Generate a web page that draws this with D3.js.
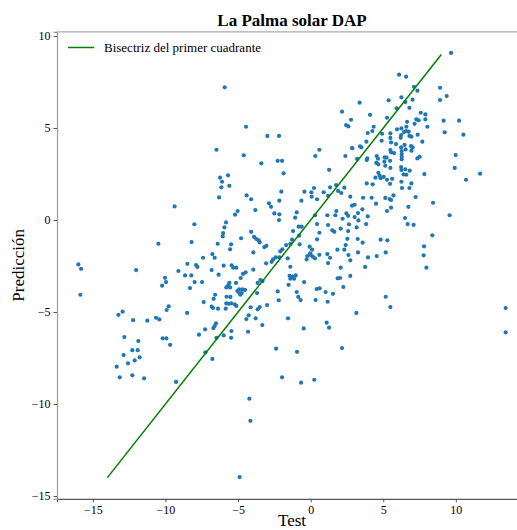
<!DOCTYPE html>
<html>
<head>
<meta charset="utf-8">
<script src="https://cdn.jsdelivr.net/npm/d3@7"></script>
<style>
    body { margin: 0; background: #fff; }
    svg { display: block; font-family: "Liberation Serif", "DejaVu Serif", serif; }
</style>
</head>
<body>
<svg></svg>
<script>
const title = "La Palma solar DAP";
const xLabel = "Test";
const yLabel = "Predicción";
const legendLabel = "Bisectriz del primer cuadrante";

const xTicks = [-15, -10, -5, 0, 5, 10];
const yTicks = [-15, -10, -5, 0, 5, 10];
const bisector = [-14, 9];

// test value, predicted value (same order)
const testVals = [
    -5.92, 3.37, 2.16, 2.78, 2.44, 2.60, -4.45, -2.98, -2.18, -6.49, 0.60, 2.85, -4.61, 0.32, 2.39, 3.20, -2.27, -1.97, -3.40, -1.86,
    1.27, -6.24, -6.10, -6.15, -5.69, -5.60, -6.31, -2.02, -4.41, -4.10, -0.43, 0.05, 0.23, 0.90, 1.34, 1.75, 1.89, 2.11, 2.32, 0.07,
    0.44, 1.20, -0.64, -2.87, -2.73, 2.73, 2.85, 3.03, -3.81,
    9.67, 6.09, 6.57, 8.91, 7.12, 7.35, 9.37, 8.91, 5.37, 6.25, 6.52, 7.02, 5.92, 6.80, 7.58, 7.90, 4.09, 5.26, 7.28, 7.44,
    7.90, 9.16, 10.22, 6.64, 7.16, 8.04, 4.34, 4.25, 3.93, 5.95, 6.25, 6.59, 6.57, 6.43, 6.75, 9.23, 10.52, 4.92, 5.49, 6.23,
    6.20, 6.80, 6.94, 7.37, 5.49, 5.54, 3.84, 4.89, 7.69, 5.88, 6.47, 6.23, 6.91, 7.02, 6.94, 6.54, 3.40, 3.49, 2.87, 5.49,
    5.54, 5.74, 6.27, 6.27, 6.27, 6.27, 3.90, 3.86, 4.55, 4.64, 5.10, 5.23, 7.51, 7.35, 4.52, 4.66, 5.08, 5.14, 5.47, 9.99,
    9.92, 5.49, 6.23, 6.25, 6.52, 6.40, 6.59, 6.82, 4.66, 4.75, 4.82, 4.46, 5.03, 7.83, 10.70, 11.67, 5.26, 5.61, 3.86, 4.27,
    6.25, 6.94, 5.47, 6.29, 6.80, 3.61, 4.20, 5.14, 5.44, 5.70, 5.54, 7.23, 6.73, 8.43, 4.50, 3.56,
    3.26, 3.03, 3.29, 3.93, 3.82, 5.54, 5.26, 6.50, 6.68, 7.09, 9.57, 8.38, 3.24, 3.58, 4.82, 5.28, 7.81, 7.78, 7.97, 5.17,
    4.55, 3.95, 2.73, 3.75, 2.73, 5.17, 5.49, 3.15, 13.43, 13.43,
    -7.25, -6.77, -2.38, -0.94, 2.16, -1.97, -0.66, 0.25, -4.22, -4.15, -4.89,
    -11.87, -12.28, -11.91, -12.88, -11.78, -12.12, -12.58, -13.36, -13.15, -12.28, -11.47, -9.68, -9.27,
    -9.37, -8.01, -10.49, -8.20, -7.41, -16.00, -15.81, -15.86, -12.02, -8.49, -7.89, -7.80, -9.11, -8.65, -8.22, -10.03, -9.96, -10.23, -7.99, -7.48,
    -8.31, -7.37, -9.78, -9.92, -12.95, -13.24, -8.51, -12.23, -11.25, -10.65, -10.42, -7.27, -7.69, -12.83, -10.19, -9.94,
    -2.16, -5.03, -5.21, -2.50, -2.16, -2.18, -0.96, -1.07, 0.30, 1.15, 1.70, 1.77, 2.46, 2.58, 2.20, -5.83, -5.94, -6.03, -6.06, 1.20,
    0.44, 1.63, 1.49, 2.07, 2.64, 2.58, 3.17, 2.53, 0.44, 0.60, -1.21, -0.83, -0.62, -0.80, -4.10, -3.90, -3.74, -3.58, -3.51, -4.79,
    -6.40, -5.48, -5.55, -1.28, -1.69, -0.76, -1.40, -3.05, -3.19, -1.95, -2.09, -2.41, -2.16, -0.07, 0.10, -0.04, -0.23, -0.28, 0.14, 0.30,
    0.60, 0.00, 1.15, 1.34, 1.84, 2.32, 2.41, 2.60, 3.26, -3.95, -6.61, -6.77, -2.59, -2.69, -3.07, -1.58, -5.99, -5.44, -5.34, -5.12,
    -1.40, 1.20, -6.82, -6.34, -3.95, -4.66, -4.48, -4.82, 2.07, -1.45, -1.24, -1.40, -1.14, -1.03, -0.45, -3.46, -3.31, -3.65, 1.86, 2.02,
    -5.60, -5.67, -5.55, -5.81, -5.14, -1.52, -4.93, -4.70, -4.52, -5.05, -4.89, -4.75, -4.84, -3.69, -2.27, -0.96, -0.85, 0.41, 0.62, 1.03,
    1.54, 2.25, -6.58, -5.79, -5.53, -6.68, -2.20, -0.69, 0.34, 1.17, -5.81, -5.65, -5.48, -5.23, -5.12, -3.00, -6.82, -6.72, -6.38, -4.13,
    -3.51, -3.65, -5.85, -4.27, -4.43, -3.79, -1.56, -3.33, -6.52, -6.61, -6.70, 1.10, 1.27, -0.48, -5.46, -5.99, -5.48, -6.49, -4.31
];

const predVals = [
    7.21, 6.38, 5.89, 5.45, 5.16, 5.09, 5.07, 4.57, 4.57, 3.82, 3.82, 3.91, 3.52, 3.48, 3.48, 3.32, 3.22, 3.22, 3.08, 2.54,
    2.73, 2.30, 2.08, 1.78, 2.43, 1.86, 1.23, 1.54, 1.34, 1.13, 1.54, 1.51, 1.74, 1.51, 1.78, 1.90, 1.58, 1.47, 1.76, 1.27,
    1.13, 1.32, 1.05, 0.91, 0.72, 1.27, 0.78, 0.83, 0.54,
    9.08, 7.90, 7.79, 7.19, 7.24, 7.03, 6.74, 6.52, 6.51, 6.67, 6.41, 6.54, 6.07, 6.10, 5.83, 5.74, 5.72, 5.56, 5.47, 5.42,
    5.47, 5.40, 5.40, 5.34, 5.23, 5.07, 5.07, 4.84, 4.73, 4.93, 4.98, 5.07, 4.84, 4.78, 4.80, 4.77, 4.64, 4.69, 4.71, 4.62,
    4.47, 4.57, 4.53, 4.64, 4.46, 4.22, 4.26, 4.31, 4.26, 4.13, 4.08, 3.95, 4.02, 3.95, 3.77, 3.84, 4.01, 3.95, 3.90, 3.80,
    3.68, 3.64, 3.75, 3.59, 3.44, 3.30, 3.35, 3.26, 3.48, 3.33, 3.41, 3.39, 3.44, 3.35, 3.11, 3.03, 3.17, 2.95, 3.22, 3.53,
    2.83, 2.83, 2.88, 2.72, 2.76, 2.48, 2.46, 2.68, 2.57, 2.41, 2.27, 2.30, 2.35, 2.50, 2.19, 2.52, 2.19, 2.24, 1.99, 1.94,
    2.08, 1.99, 1.97, 1.74, 1.74, 1.21, 1.21, 1.20, 1.14, 1.34, 0.67, 1.25, 0.72, 0.94, 0.89, 0.58,
    0.38, 0.16, -0.02, 0.20, -0.22, 1.09, 0.49, 0.11, -0.22, -0.26, 0.26, -0.83, -1.03, -1.23, -1.07, -1.10, -1.43, -1.92, -2.59, -1.76,
    -1.96, -2.03, -2.19, -2.55, -3.04, -4.17, -4.73, -5.05, -4.78, -6.10,
    -7.19, -7.55, -6.99, -7.16, -6.96, -8.55, -8.84, -8.68, -9.71, -10.91, -13.97,
    -6.58, -7.07, -7.07, -7.34, -7.46, -7.63, -7.79, -7.97, -8.55, -8.44, -8.60, -6.78, -8.80,
    0.74, -0.23, -1.29, -1.20, -2.05, -2.41, -2.65, -4.06, -2.72, -2.38, -2.45, -2.55, -2.77, -3.01, -3.01, -3.14, -3.37, -3.57, -3.37, -3.37,
    -3.70, -4.46, -4.69, -4.89, -4.98, -5.15, -5.05, -5.44, -5.47, -5.31, -5.40, -5.94, -6.23, -6.36, -6.43, -6.43,
    1.05, 0.49, 0.29, 0.36, 0.31, 0.00, 0.42, 0.13, 0.26, 0.26, 0.26, 0.49, 0.36, 0.23, 0.07, -0.13, -0.40, -0.71, -0.89, -0.27,
    -0.22, -0.64, -0.56, -0.47, -0.23, -0.60, -0.40, -1.02, -1.05, -0.69, -0.60, -0.36, -0.36, -0.85, -0.64, -0.92, -1.03, -1.10, -1.21, -0.99,
    -1.29, -1.32, -1.59, -1.07, -1.36, -1.32, -1.30, -1.40, -1.47, -1.59, -1.70, -2.03, -2.03, -1.45, -1.61, -1.81, -1.96, -2.14, -1.99, -2.08,
    -1.89, -1.90, -1.85, -2.05, -1.61, -1.61, -1.36, -1.90, -1.76, -1.76, -2.05, -1.85, -2.14, -2.27, -2.35, -2.08, -2.48, -2.46, -2.59, -2.59,
    -2.54, -2.34, -2.72, -2.97, -2.70, -2.93, -2.84, -3.15, -2.59, -3.03, -3.08, -3.19, -3.19, -3.01, -3.37, -3.26, -3.32, -3.42, -3.17, -3.15,
    -3.41, -3.53, -3.66, -3.66, -3.42, -3.52, -3.77, -3.77, -3.80, -3.86, -3.98, -3.97, -4.06, -3.97, -3.88, -3.91, -4.18, -3.75, -3.71, -3.91,
    -4.01, -3.64, -4.06, -4.17, -4.18, -4.28, -4.36, -4.35, -4.35, -4.44, -4.53, -4.55, -4.53, -4.58, -4.67, -4.62, -4.71, -4.78, -4.82, -4.74,
    -4.73, -4.85, -4.82, -5.18, -5.38, -5.34, -5.34, -5.71, -5.61, -5.76, -5.87, -5.58, -5.85, -5.89, -6.03, -6.27, -6.40, -6.40, -6.07
];

(() => {
    const width = 517;
    const height = 530;
    const plot = { left: 57, right: 527, top: 31.8, bottom: 498.8 };

    const xScale = d3.scaleLinear()
        .domain([-17.47, 14.9])
        .range([plot.left, plot.right]);

    const yScale = d3.scaleLinear()
        .domain([-15.15, 10.23])
        .range([plot.bottom, plot.top]);

    const fmt = d => String(d).replace("-", "\u2212");

    const svg = d3.select("svg")
        .attr("width", width)
        .attr("height", height);

    // top spine (light)
    svg.append("line")
        .attr("x1", plot.left).attr("x2", plot.right)
        .attr("y1", plot.top).attr("y2", plot.top)
        .attr("stroke", "#aaa")
        .attr("stroke-width", 1.2);

    const xAxis = svg.append("g")
        .attr("transform", `translate(0, ${plot.bottom})`)
        .call(d3.axisBottom(xScale).tickValues(xTicks).tickFormat(fmt).tickSize(3.5).tickPadding(3));

    const yAxis = svg.append("g")
        .attr("transform", `translate(${plot.left}, 0)`)
        .call(d3.axisLeft(yScale).tickValues(yTicks).tickFormat(fmt).tickSize(3.5).tickPadding(3));

    [xAxis, yAxis].forEach(g => {
        g.selectAll(".tick line").attr("stroke", "#555");
        g.selectAll(".tick text")
            .attr("fill", "#000")
            .style("font-family", "Liberation Serif, serif")
            .style("font-size", "12px");
    });
    xAxis.select(".domain").attr("stroke", "#555").attr("stroke-width", 1.2);
    yAxis.select(".domain").attr("stroke", "#999").attr("stroke-width", 1.2);

    const points = testVals.map((x, i) => ({ x, y: predVals[i] }));

    svg.append("g")
        .selectAll("circle")
        .data(points)
        .enter()
        .append("circle")
        .attr("cx", d => xScale(d.x))
        .attr("cy", d => yScale(d.y))
        .attr("r", 2.1)
        .attr("fill", "#1f77b4");

    const line = d3.line()
        .x(d => xScale(d))
        .y(d => yScale(d));

    svg.append("path")
        .datum(bisector)
        .attr("fill", "none")
        .attr("stroke", "green")
        .attr("stroke-width", 1.5)
        .attr("d", line);

    // legend
    svg.append("line")
        .attr("x1", 68).attr("x2", 94)
        .attr("y1", 47.5).attr("y2", 47.5)
        .attr("stroke", "green")
        .attr("stroke-width", 1.5);

    svg.append("text")
        .attr("x", 104)
        .attr("y", 52)
        .style("font-size", "13px")
        .text(legendLabel);

    svg.append("text")
        .attr("x", (plot.left + plot.right) / 2)
        .attr("y", 26)
        .attr("text-anchor", "middle")
        .style("font-size", "17px")
        .style("font-weight", "bold")
        .text(title);

    svg.append("text")
        .attr("x", (plot.left + plot.right) / 2)
        .attr("y", 526)
        .attr("text-anchor", "middle")
        .style("font-size", "17px")
        .text(xLabel);

    svg.append("text")
        .attr("transform", `translate(24, ${(plot.top + plot.bottom) / 2}) rotate(-90)`)
        .attr("text-anchor", "middle")
        .style("font-size", "17px")
        .text(yLabel);
})();
</script>
</body>
</html>
